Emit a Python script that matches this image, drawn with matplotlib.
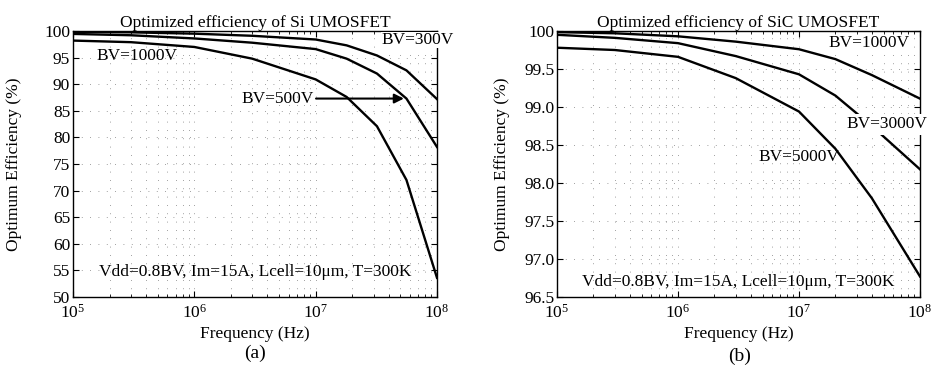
import matplotlib
matplotlib.use("Agg")
import matplotlib.pyplot as plt
import numpy as np
from matplotlib.ticker import FixedLocator, LogLocator, NullFormatter

plt.rcParams["font.family"] = ["Liberation Serif", "DejaVu Serif"]
plt.rcParams["mathtext.fontset"] = "stix"

# Si UMOSFET (panel a)
si_freq = [1e5, 3e5, 1e6, 3e6, 1e7, 1.8e7, 3.2e7, 5.6e7, 1e8]
si_bv300 = [99.85, 99.75, 99.5, 99.1, 98.4, 97.3, 95.4, 92.6, 87.2]
si_bv500 = [99.45, 99.2, 98.6, 97.8, 96.6, 94.8, 92.0, 87.3, 78.2]
si_bv1000 = [98.2, 97.9, 97.0, 94.8, 90.9, 87.6, 82.1, 72.0, 53.6]

# SiC UMOSFET (panel b)
sic_freq = [1e5, 3e5, 1e6, 3e6, 1e7, 2e7, 4e7, 1e8]
sic_bv1000 = [99.985, 99.97, 99.93, 99.86, 99.76, 99.63, 99.42, 99.11]
sic_bv3000 = [99.95, 99.91, 99.84, 99.67, 99.43, 99.15, 98.75, 98.18]
sic_bv5000 = [99.78, 99.75, 99.66, 99.38, 98.94, 98.45, 97.80, 96.77]

si_yticks = [50, 55, 60, 65, 70, 75, 80, 85, 90, 95, 100]
sic_yticks = [96.5, 97.0, 97.5, 98.0, 98.5, 99.0, 99.5, 100.0]
sic_ylabels = ["96.5", "97.0", "97.5", "98.0", "98.5", "99.0", "99.5", "100"]

cond_text = "Vdd=0.8BV, Im=15A, Lcell=10\u03bcm, T=300K"
FS = 12.5

fig = plt.figure(figsize=(9.35, 3.68), dpi=100)
ax1 = fig.add_axes([73 / 935, 1 - 297 / 368, 364 / 935, 266 / 368])
ax2 = fig.add_axes([557 / 935, 1 - 297 / 368, 363 / 935, 266 / 368])


def style(ax, ypad):
    ax.set_xscale("log")
    ax.set_xlim(1e5, 1e8)
    ax.xaxis.set_major_locator(LogLocator(base=10, numticks=10))
    ax.xaxis.set_minor_locator(LogLocator(base=10, subs=np.arange(2, 10), numticks=20))
    ax.xaxis.set_minor_formatter(NullFormatter())
    ax.tick_params(which="both", direction="in", top=True, right=True, labelsize=FS)
    ax.tick_params(which="major", length=4, width=0.8, pad=2)
    ax.tick_params(axis="x", which="major", pad=5)
    ax.tick_params(which="minor", length=2.5, width=0.6)
    ax.grid(True, which="both", color="0.5", linestyle=(0, (1, 9)), linewidth=0.6)
    for s in ax.spines.values():
        s.set_linewidth(1.0)
    ax.set_xlabel("Frequency (Hz)", fontsize=FS, labelpad=3)
    ax.set_ylabel("Optimum Efficiency (%)", fontsize=FS, labelpad=ypad)


lw = 1.7
# panel (a)
style(ax1, 16)
ax1.plot(si_freq, si_bv300, color="black", lw=lw)
ax1.plot(si_freq, si_bv500, color="black", lw=lw)
ax1.plot(si_freq, si_bv1000, color="black", lw=lw)
ax1.set_ylim(50, 100)
ax1.yaxis.set_major_locator(FixedLocator(si_yticks))
ax1.set_title("Optimized efficiency of Si UMOSFET", fontsize=FS, pad=3)
ax1.text(10 ** 7.84, 98.3, "BV=300V", fontsize=FS, ha="center", va="center",
         bbox=dict(facecolor="white", edgecolor="none", pad=0.3))
ax1.text(10 ** 5.53, 95.3, "BV=1000V", fontsize=FS, ha="center", va="center")
ax1.annotate("", xy=(10 ** 7.75, 87.3), xytext=(10 ** 6.98, 87.3),
             arrowprops=dict(arrowstyle="-|>", color="black", lw=1.5, mutation_scale=14))
ax1.text(10 ** 6.98, 87.3, "BV=500V", fontsize=FS, ha="right", va="center")
ax1.text(10 ** 6.5, 54.7, cond_text, fontsize=FS, ha="center", va="center")
fig.text(255 / 935, 1 - 353 / 368, "(a)", fontsize=FS + 1.5, ha="center", va="center")

# panel (b)
style(ax2, 10)
ax2.plot(sic_freq, sic_bv1000, color="black", lw=lw)
ax2.plot(sic_freq, sic_bv3000, color="black", lw=lw)
ax2.plot(sic_freq, sic_bv5000, color="black", lw=lw)
ax2.set_ylim(96.5, 100.0)
ax2.yaxis.set_major_locator(FixedLocator(sic_yticks))
ax2.set_yticklabels(sic_ylabels)
ax2.set_title("Optimized efficiency of SiC UMOSFET", fontsize=FS, pad=3)
ax2.text(10 ** 7.58, 99.84, "BV=1000V", fontsize=FS, ha="center", va="center",
         bbox=dict(facecolor="white", edgecolor="none", pad=0.3))
ax2.text(10 ** 7.73, 98.77, "BV=3000V", fontsize=FS, ha="center", va="center",
         bbox=dict(facecolor="white", edgecolor="none", pad=1.5))
ax2.text(10 ** 7.0, 98.34, "BV=5000V", fontsize=FS, ha="center", va="center")
ax2.text(10 ** 6.5, 96.7, cond_text, fontsize=FS, ha="center", va="center")
fig.text(740 / 935, 1 - 356 / 368, "(b)", fontsize=FS + 1.5, ha="center", va="center")

fig.savefig("out.png", dpi=100)
